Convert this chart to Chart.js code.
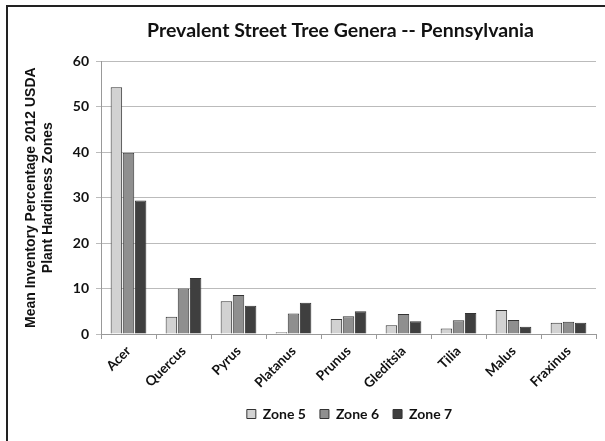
<!DOCTYPE html>
<html><head><meta charset="utf-8">
<script src="https://cdn.jsdelivr.net/npm/chart.js@4"></script>
<style>html,body{margin:0;padding:0;background:#fff;}#wrap{width:605px;height:441px;position:relative;}</style>
</head><body><div id="wrap"><canvas id="c" width="605" height="441"></canvas></div>
<script>
const categories = ["Acer","Quercus","Pyrus","Platanus","Prunus","Gleditsia","Tilia","Malus","Fraxinus"];
const zone5 = [54.3, 3.8, 7.2, 0.4, 3.3, 1.9, 1.2, 5.3, 2.5];
const zone6 = [39.9, 10.0, 8.6, 4.5, 3.9, 4.4, 3.0, 3.1, 2.7];
const zone7 = [29.4, 12.3, 6.2, 6.9, 5.0, 2.8, 4.6, 1.6, 2.5];
const seriesNames = ["Zone 5","Zone 6","Zone 7"];
const yTicks = [0,10,20,30,40,50,60];

const framePlugin = {
  id:'frame',
  afterLayout(chart){
    const ca = chart.chartArea;
    if (chart.titleBlock){ chart.titleBlock.left = ca.left - 2; chart.titleBlock.right = ca.right - 14; }
    if (chart.legend){ chart.legend.left = ca.left + 1; chart.legend.right = ca.right + 1; }
  },
  beforeDraw(chart){
    const ctx = chart.ctx;
    ctx.save();
    ctx.fillStyle='#fff';
    ctx.fillRect(0,0,chart.width,chart.height);
    ctx.strokeStyle='#222';
    ctx.lineWidth=2;
    ctx.strokeRect(7,6,700,700);
    ctx.restore();
  }
};

const mk = (label, data, color) => ({label, data, backgroundColor: color, borderColor:'#333', borderWidth:1, barPercentage:0.95, categoryPercentage:0.66});

new Chart(document.getElementById('c'), {
  type:'bar',
  data:{labels:categories, datasets:[mk(seriesNames[0],zone5,'#d2d2d2'), mk(seriesNames[1],zone6,'#8f8f8f'), mk(seriesNames[2],zone7,'#3f3f3f')]},
  options:{
    responsive:false, animation:false,
    layout:{padding:{left:14,right:9,top:0,bottom:10}},
    plugins:{
      title:{display:true,text:'Prevalent Street Tree Genera -- Pennsylvania',color:'#111',font:{family:'Lato',size:19.5,weight:'bold'},padding:{top:19,bottom:19}},
      legend:{position:'bottom',labels:{color:'#111',font:{family:'Lato',size:14,weight:'bold'},boxWidth:9,boxHeight:9,padding:14}},
      tooltip:{enabled:false}
    },
    scales:{
      x:{
        grid:{display:true,drawOnChartArea:false,offset:true,tickLength:5,color:'#999'},
        border:{color:'#999'},
        ticks:{color:'#111',font:{family:'Lato',size:13.5,weight:'bold'},maxRotation:45,minRotation:45,padding:4},
        afterFit(s){s.height=59;}
      },
      y:{
        min:0,max:60,
        afterBuildTicks(s){s.ticks=yTicks.map(v=>({value:v}));},
        grid:{color:'#bbb',tickLength:5},
        border:{color:'#999'},
        ticks:{color:'#111',font:{family:'Lato',size:14,weight:'bold'},padding:7},
        title:{display:true,text:['Mean Inventory Percentage 2012 USDA','Plant Hardiness Zones'],color:'#111',font:{family:'Liberation Sans',size:14,weight:'bold'},lineHeight:1.2,padding:{top:9,bottom:4}},
        afterFit(s){s.width=87;}
      }
    }
  },
  plugins:[framePlugin]
});
</script></body></html>
